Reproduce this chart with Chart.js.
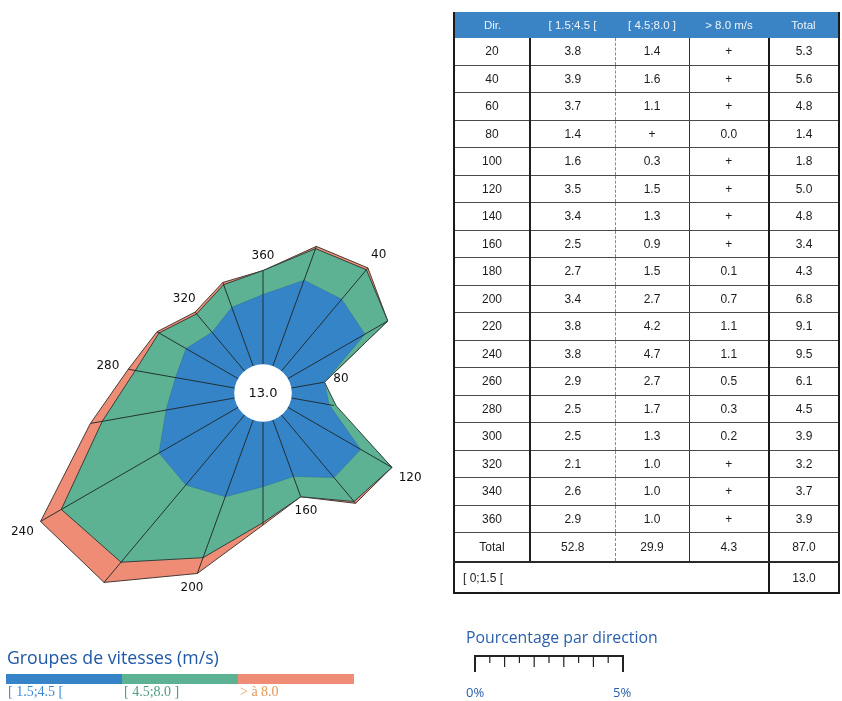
<!DOCTYPE html>
<html>
<head>
<meta charset="utf-8">
<script src="https://cdn.jsdelivr.net/npm/chart.js@4/dist/chart.umd.min.js"></script>
<style>
  html, body { margin: 0; padding: 0; background: #fff; width: 842px; height: 701px; overflow: hidden; position: relative; }
  #rose { position: absolute; left: 0; top: 0; }
  #tbl { position: absolute; left: 453px; top: 12px; border-collapse: collapse; table-layout: fixed;
         font-family: "Liberation Sans", Arial, sans-serif; font-size: 12px; color: #1c1c1c;
         border-left: 2px solid #1a1a1a; border-right: 2px solid #1a1a1a; border-bottom: 2px solid #1a1a1a; }
  #tbl th { background: #3a84c6; color: #eef3fa; font-weight: normal; font-size: 11.5px; height: 26px; padding: 0; text-align: center; }
  #tbl td { height: 26.5px; padding: 0; text-align: center; border-bottom: 1px solid #4a4a4a; }
  #tbl td.c1 { border-right: 2px solid #1f1f1f; }
  #tbl td.c2 { border-right: 1px dashed #8a8a8a; }
  #tbl td.c3 { border-right: 1px solid #333; }
  #tbl td.c4 { border-right: 2px solid #1a1a1a; }
  #tbl tr.tot td { height: 28px; border-bottom: 2px solid #2a2a2a; }
  #tbl tr.calm td { height: 29px; }
  #tbl td.lbl { text-align: left; padding-left: 8px; border-right: 2px solid #1a1a1a; }
  .lg { position: absolute; white-space: nowrap; }
  #lgTitle { left: 7px; top: 645px; font-family: "Open Sans", sans-serif; font-size: 17.7px; color: #1f58a6; }
  .bar { position: absolute; top: 674px; height: 10px; }
  .blab { position: absolute; top: 684px; font-family: "Liberation Serif", serif; font-size: 14px; }
  #scTitle { left: 466px; top: 626px; font-family: "Open Sans", sans-serif; font-size: 15.8px; color: #2a5fae; }
  .sclab { position: absolute; top: 683px; font-family: "Open Sans", sans-serif; font-size: 13px; color: #2a5fae; }
  #ruler { position: absolute; left: 0; top: 0; }
</style>
</head>
<body>
<canvas id="rose" width="842" height="701"></canvas>
<table id="tbl"></table>
<div class="lg" id="lgTitle">Groupes de vitesses (m/s)</div>
<div id="legendBars"></div>
<div class="lg" id="scTitle">Pourcentage par direction</div>
<svg id="ruler" width="842" height="701"></svg>
<div id="scaleLabels"></div>
<script>
// Wind directions (degrees) and frequency (%) per speed class; '+' = trace (< 0.05 %)
const DIRS = [20, 40, 60, 80, 100, 120, 140, 160, 180, 200, 220, 240, 260, 280, 300, 320, 340, 360];
const LOW  = [3.8, 3.9, 3.7, 1.4, 1.6, 3.5, 3.4, 2.5, 2.7, 3.4, 3.8, 3.8, 2.9, 2.5, 2.5, 2.1, 2.6, 2.9];
const MID  = [1.4, 1.6, 1.1, '+', 0.3, 1.5, 1.3, 0.9, 1.5, 2.7, 4.2, 4.7, 2.7, 1.7, 1.3, 1.0, 1.0, 1.0];
const HIGH = ['+', '+', '+', 0.0, '+', '+', '+', '+', 0.1, 0.7, 1.1, 1.1, 0.5, 0.3, 0.2, '+', '+', '+'];
const TOTAL = [5.3, 5.6, 4.8, 1.4, 1.8, 5.0, 4.8, 3.4, 4.3, 6.8, 9.1, 9.5, 6.1, 4.5, 3.9, 3.2, 3.7, 3.9];
const CLASS_TOTALS = [52.8, 29.9, 4.3, 87.0];
const CALM = 13.0;
const CLASSES = ['[ 1.5;4.5 [', '[ 4.5;8.0 ]', '> à 8.0'];
const HEADERS = ['Dir.', '[ 1.5;4.5 [', '[ 4.5;8.0 ]', '> 8.0 m/s', 'Total'];
const CALM_LABEL = '[ 0;1.5 [';
const LABELED_DIRS = [40, 80, 120, 160, 200, 240, 280, 320, 360];
const SCALE_TICKS = ['0%', '5%'];

const COLORS = ['#3584c8', '#5cb292', '#ee8c76'];
const LABEL_COLORS = ['#3b8ad6', '#4f9c80', '#e39a58'];

const num = v => (v === '+' ? 0 : v);
const fmt = v => (v === '+' ? '+' : Number(v).toFixed(1));

// Stacked radii: each ring sits on top of the previous one
const ring1 = LOW.map(num);
const ring2 = ring1.map((v, i) => v + num(MID[i]));
const ring3 = TOTAL.slice();

// Direction table
(function buildTable() {
  const t = document.getElementById('tbl');
  const widths = [76, 85, 74, 80, 70];
  const cg = document.createElement('colgroup');
  widths.forEach(w => { const c = document.createElement('col'); c.style.width = w + 'px'; cg.appendChild(c); });
  t.appendChild(cg);
  let h = '<tr>' + HEADERS.map(x => '<th>' + x + '</th>').join('') + '</tr>';
  DIRS.forEach((d, i) => {
    h += '<tr><td class="c1">' + d + '</td><td class="c2">' + fmt(LOW[i]) + '</td><td class="c3">' +
         fmt(MID[i]) + '</td><td class="c4">' + fmt(HIGH[i]) + '</td><td>' + fmt(TOTAL[i]) + '</td></tr>';
  });
  h += '<tr class="tot"><td class="c1">Total</td><td class="c2">' + fmt(CLASS_TOTALS[0]) + '</td><td class="c3">' +
       fmt(CLASS_TOTALS[1]) + '</td><td class="c4">' + fmt(CLASS_TOTALS[2]) + '</td><td>' + fmt(CLASS_TOTALS[3]) + '</td></tr>';
  h += '<tr class="calm"><td class="lbl" colspan="4">' + CALM_LABEL + '</td><td>' + fmt(CALM) + '</td></tr>';
  t.insertAdjacentHTML('beforeend', h);
})();

// Speed-class legend
(function buildLegend() {
  const bars = document.getElementById('legendBars');
  const x0 = 6, w = 116;
  CLASSES.forEach((c, i) => {
    const b = document.createElement('div');
    b.className = 'bar';
    b.style.left = (x0 + i * w) + 'px';
    b.style.width = w + 'px';
    b.style.background = COLORS[i];
    bars.appendChild(b);
    const l = document.createElement('div');
    l.className = 'blab';
    l.style.left = (x0 + 2 + i * w) + 'px';
    l.style.color = LABEL_COLORS[i];
    l.textContent = c;
    bars.appendChild(l);
  });
})();

// Percentage ruler (0 to 5 %, half-percent ticks)
(function buildRuler() {
  const svg = document.getElementById('ruler');
  const x0 = 475, x1 = 623, y = 656;
  let s = '<line x1="' + x0 + '" y1="' + y + '" x2="' + x1 + '" y2="' + y + '" stroke="#222" stroke-width="2"/>';
  for (let k = 0; k <= 10; k++) {
    const x = x0 + (x1 - x0) * k / 10;
    const len = (k === 0 || k === 10) ? 16 : (k % 2 === 0 ? 11 : 7);
    s += '<line x1="' + x + '" y1="' + (y - 1) + '" x2="' + x + '" y2="' + (y + len) + '" stroke="#222" stroke-width="' + ((k === 0 || k === 10) ? 2 : 1.2) + '"/>';
  }
  svg.innerHTML = s;
  const lab = document.getElementById('scaleLabels');
  [x0 - 9, x1 - 10].forEach((x, i) => {
    const d = document.createElement('div');
    d.className = 'sclab';
    d.style.left = x + 'px';
    d.textContent = SCALE_TICKS[i];
    lab.appendChild(d);
  });
})();

// Spokes, calm hole and direction labels on the rose
const rosePlugin = {
  id: 'roseDecor',
  afterDatasetsDraw(chart) {
    const sc = chart.scales.r;
    const ctx = chart.ctx;
    ctx.save();
    ctx.strokeStyle = '#1d2626';
    ctx.lineWidth = 0.9;
    DIRS.forEach((d, i) => {
      const a = sc.getPointPositionForValue(i, 0);
      const b = sc.getPointPositionForValue(i, ring3[i]);
      ctx.beginPath();
      ctx.moveTo(a.x, a.y);
      ctx.lineTo(b.x, b.y);
      ctx.stroke();
    });
    const r0 = sc.getDistanceFromCenterForValue(0);
    ctx.fillStyle = '#ffffff';
    ctx.beginPath();
    ctx.arc(sc.xCenter, sc.yCenter, r0, 0, Math.PI * 2);
    ctx.fill();
    ctx.fillStyle = '#111';
    ctx.font = '13px "DejaVu Sans"';
    ctx.textAlign = 'center';
    ctx.textBaseline = 'middle';
    ctx.fillText(CALM.toFixed(1), sc.xCenter, sc.yCenter + 1);

    ctx.font = '12px "DejaVu Sans"';
    const gap = 9, th = 12;
    LABELED_DIRS.forEach(d => {
      const i = DIRS.indexOf(d);
      const p = sc.getPointPositionForValue(i, Math.max(ring3[i], ring2[i]));
      const ang = sc.getIndexAngle(i) - Math.PI / 2;
      const ux = Math.cos(ang), uy = Math.sin(ang);
      const tw = ctx.measureText(String(d)).width;
      const ext = Math.min(Math.abs(ux) > 1e-6 ? (tw / 2) / Math.abs(ux) : 1e9,
                           Math.abs(uy) > 1e-6 ? (th / 2) / Math.abs(uy) : 1e9);
      ctx.fillText(String(d), p.x + ux * (gap + ext), p.y + uy * (gap + ext));
    });
    ctx.restore();
  }
};

new Chart(document.getElementById('rose'), {
  type: 'radar',
  data: {
    labels: DIRS.map(String),
    datasets: [
      { label: CLASSES[0], data: ring1, backgroundColor: COLORS[0], borderColor: 'rgba(30,80,130,0.35)', borderWidth: 0.8, fill: 'start', pointRadius: 0, tension: 0 },
      { label: CLASSES[1], data: ring2, backgroundColor: COLORS[1], borderColor: '#34423d', borderWidth: 1, fill: 'start', pointRadius: 0, tension: 0 },
      { label: CLASSES[2], data: ring3, backgroundColor: COLORS[2], borderColor: '#4a3a36', borderWidth: 1, fill: 'start', pointRadius: 0, tension: 0 }
    ]
  },
  options: {
    responsive: false,
    animation: false,
    layout: { padding: { left: 3, top: 133, right: 319, bottom: 48 } },
    plugins: { legend: { display: false }, tooltip: { enabled: false } },
    scales: {
      r: {
        min: -1.2,
        max: 9.63,
        startAngle: 20,
        ticks: { display: false },
        grid: { display: false },
        angleLines: { display: false },
        pointLabels: { display: false }
      }
    }
  },
  plugins: [rosePlugin]
});
</script>
</body>
</html>
